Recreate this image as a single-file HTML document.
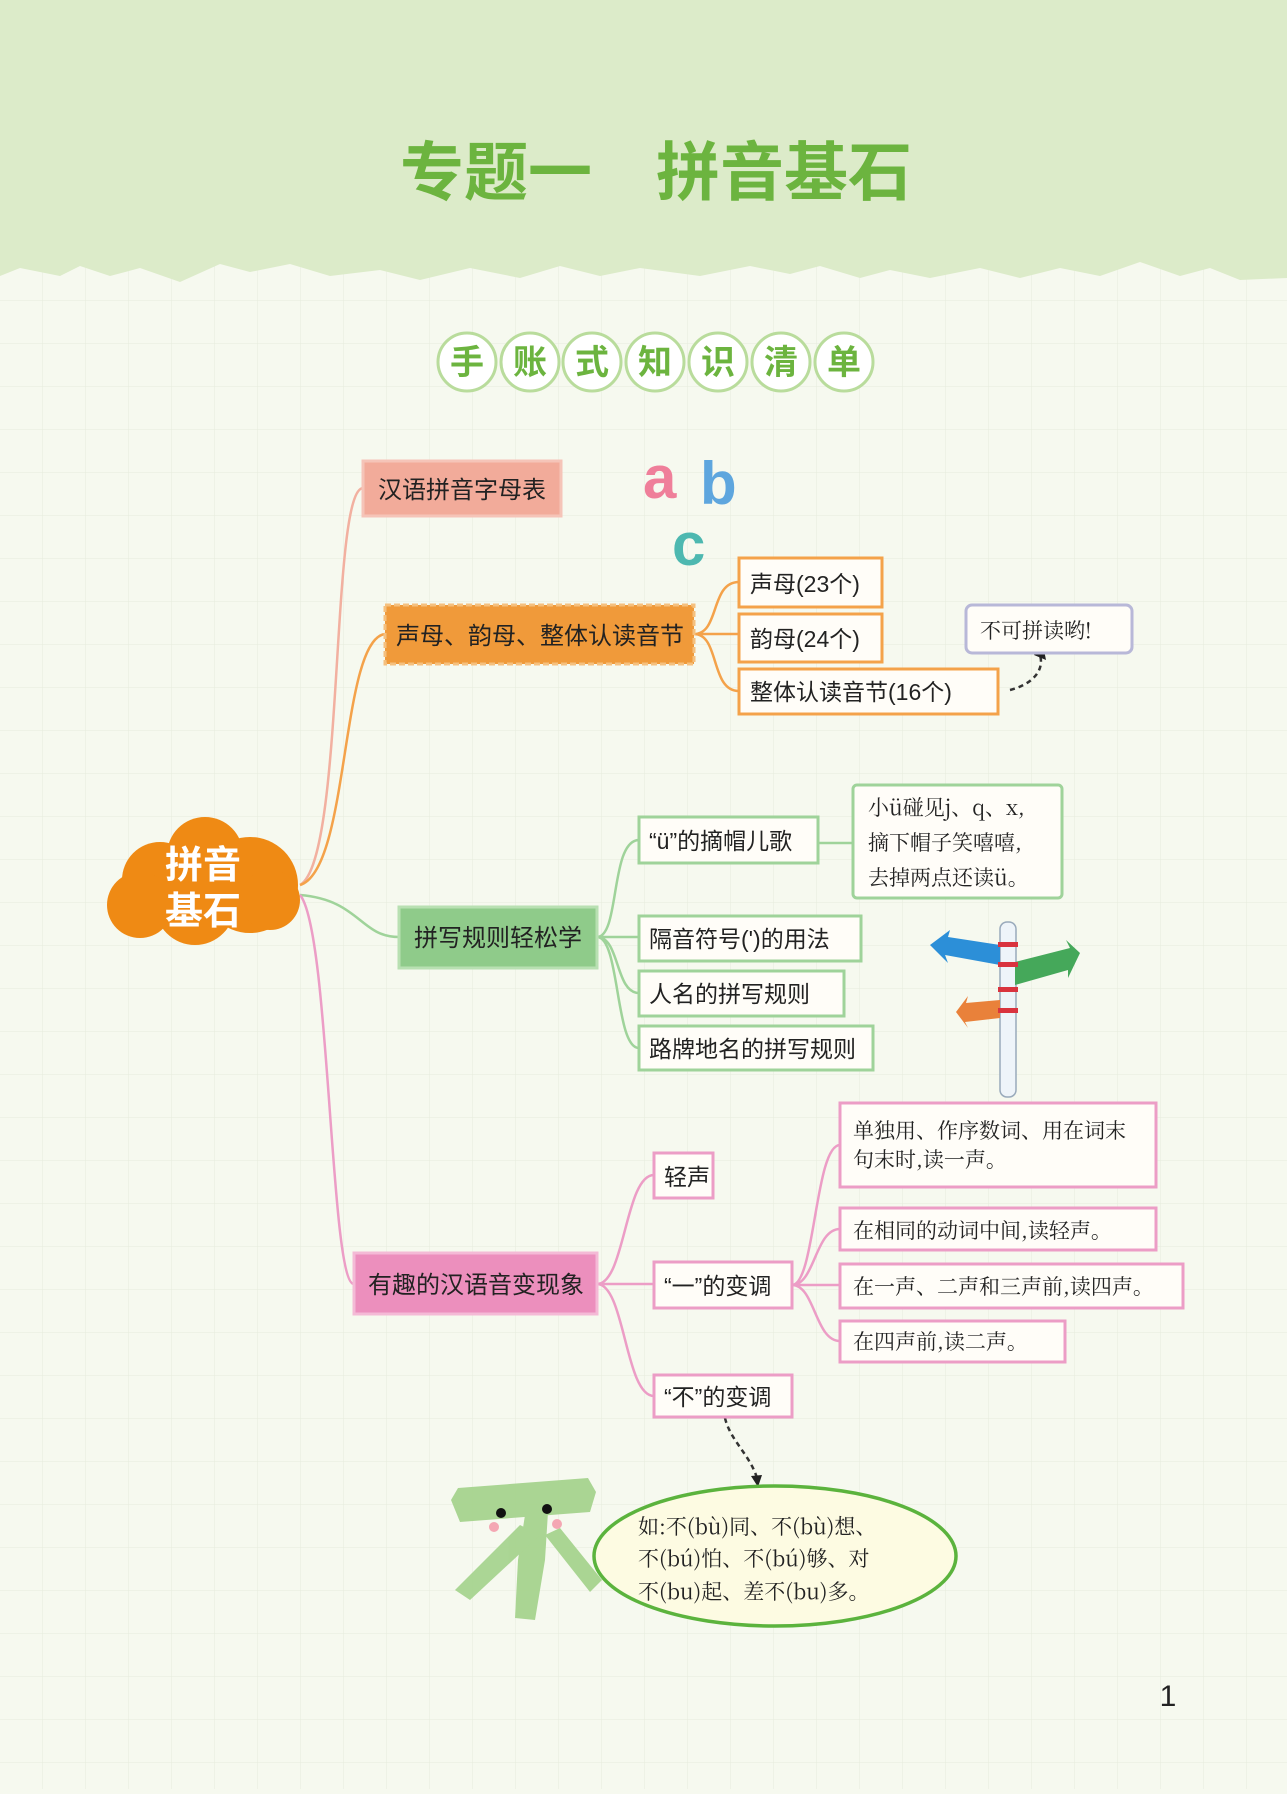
<!DOCTYPE html>
<html><head><meta charset="utf-8"><style>
html,body{margin:0;padding:0}
body{width:1287px;height:1789px;overflow:hidden;background:#f6f9ef}
svg text{font-family:"Liberation Sans","Noto Sans CJK SC",sans-serif}
.s{font-family:"Noto Serif CJK SC","Liberation Serif",serif !important}
</style></head><body>
<svg width="1287" height="1789" viewBox="0 0 1287 1789" xmlns="http://www.w3.org/2000/svg">
<defs>
<pattern id="g" width="43" height="43" patternUnits="userSpaceOnUse">
<path d="M43 0V43H0" fill="none" stroke="#e6ecdc" stroke-width="1"/>
</pattern>
</defs>
<rect width="1287" height="1789" fill="#f6f9ef"/>
<rect width="1287" height="1789" fill="url(#g)"/>
<path d="M0 0H1287V278L1240 280L1210 268L1180 276L1140 262L1100 276L1060 268L1020 278L980 268L930 278L890 270L860 278L820 266L790 274L750 266L700 276L640 268L600 276L560 266L520 278L470 268L420 280L380 270L330 276L290 264L250 272L220 264L180 282L140 268L110 276L80 266L60 276L20 268L0 276Z" fill="#dcebc9"/>
<text x="656" y="195" text-anchor="middle" font-size="64" font-weight="bold" fill="#6cb43f">专题一　拼音基石</text>
<g font-size="34" font-weight="bold" fill="#6cb43f" text-anchor="middle">
<g fill="#fff" stroke="#b9dc9c" stroke-width="3">
<circle cx="467" cy="362" r="29"/><circle cx="530" cy="362" r="29"/><circle cx="592" cy="362" r="29"/><circle cx="655" cy="362" r="29"/><circle cx="718" cy="362" r="29"/><circle cx="781" cy="362" r="29"/><circle cx="844" cy="362" r="29"/></g>
<text x="467" y="374">手</text><text x="530" y="374">账</text><text x="592" y="374">式</text><text x="655" y="374">知</text><text x="718" y="374">识</text><text x="781" y="374">清</text><text x="844" y="374">单</text>
</g>
<g fill="none" stroke-width="2.5">
<path d="M300 885C345 860 330 490 363 488" stroke="#f2b0a0"/>
<path d="M300 885C350 870 340 640 385 634" stroke="#f4a24a"/>
<path d="M300 895C360 900 360 937 399 937" stroke="#9fd39a"/>
<path d="M300 895C330 930 330 1285 354 1284" stroke="#ec9dc6"/>
<path d="M694 634C720 634 710 582 739 582M694 634H739M694 634C720 634 710 691 739 691" stroke="#f4a24a"/>
<path d="M597 937C620 937 610 840 639 840M597 937H639M597 937C620 937 615 993 639 993M597 937C620 937 615 1048 639 1048" stroke="#9fd39a"/>
<path d="M818 843H853" stroke="#9fd39a"/>
<path d="M597 1284C625 1284 625 1175 654 1175M597 1284H654M597 1284C625 1284 625 1396 654 1396" stroke="#ec9dc6"/>
<path d="M792 1285C815 1285 815 1145 840 1145M792 1285C815 1285 815 1229 840 1229M792 1285H840M792 1285C815 1285 815 1341 840 1341" stroke="#ec9dc6"/>
<path d="M1010 690C1030 685 1045 672 1040 655" stroke="#333" stroke-dasharray="5 4"/>
<path d="M725 1418C730 1440 750 1455 757 1478" stroke="#333" stroke-dasharray="5 4"/>
</g>
<path d="M1034 655L1043 645L1046 660Z" fill="#222"/>
<path d="M751 1476L762 1475L758 1487Z" fill="#222"/>
<rect x="363" y="461" width="198" height="55" fill="#f2ab9a" stroke="#f5c4b8" stroke-width="3"/>
<text x="462" y="498" text-anchor="middle" font-size="24" fill="#222">汉语拼音字母表</text>
<rect x="385" y="605" width="309" height="59" fill="#f09a3a" stroke="#f5c07e" stroke-width="3" stroke-dasharray="6 3"/>
<text x="540" y="644" text-anchor="middle" font-size="24" fill="#222">声母、韵母、整体认读音节</text>
<rect x="399" y="907" width="198" height="61" fill="#8fcb8a" stroke="#b8e0b2" stroke-width="3"/>
<text x="498" y="946" text-anchor="middle" font-size="24" fill="#222">拼写规则轻松学</text>
<rect x="354" y="1253" width="243" height="61" fill="#ec8fbd" stroke="#f4bad6" stroke-width="3"/>
<text x="476" y="1293" text-anchor="middle" font-size="24" fill="#222">有趣的汉语音变现象</text>
<g fill="#ef8a14">
<circle cx="205" cy="855" r="38"/><circle cx="160" cy="880" r="38"/><circle cx="250" cy="885" r="48"/><circle cx="140" cy="905" r="33"/><circle cx="195" cy="905" r="40"/><circle cx="270" cy="900" r="30"/>
</g>
<text x="203" y="878" text-anchor="middle" font-size="38" font-weight="bold" fill="#fff">拼音</text>
<text x="203" y="924" text-anchor="middle" font-size="38" font-weight="bold" fill="#fff">基石</text>
<g fill="#fffdf8" stroke-width="3">
<rect x="739" y="558" width="143" height="49" stroke="#f4a24a"/>
<rect x="739" y="614" width="143" height="48" stroke="#f4a24a"/>
<rect x="739" y="669" width="259" height="45" stroke="#f4a24a"/>
<rect x="966" y="605" width="166" height="48" rx="6" stroke="#b8b8d8"/>
<rect x="639" y="817" width="179" height="46" stroke="#9fd39a"/>
<rect x="853" y="785" width="209" height="113" rx="4" stroke="#9fd39a"/>
<rect x="639" y="916" width="222" height="45" stroke="#9fd39a"/>
<rect x="639" y="971" width="205" height="45" stroke="#9fd39a"/>
<rect x="639" y="1026" width="234" height="44" stroke="#9fd39a"/>
<rect x="654" y="1153" width="59" height="45" stroke="#ec9dc6"/>
<rect x="654" y="1262" width="138" height="46" stroke="#ec9dc6"/>
<rect x="654" y="1375" width="138" height="42" stroke="#ec9dc6"/>
<rect x="840" y="1103" width="316" height="84" stroke="#ec9dc6"/>
<rect x="840" y="1208" width="316" height="42" stroke="#ec9dc6"/>
<rect x="840" y="1264" width="343" height="44" stroke="#ec9dc6"/>
<rect x="840" y="1321" width="225" height="41" stroke="#ec9dc6"/>
</g>
<g font-size="23" fill="#222">
<text x="750" y="592">声母(23个)</text>
<text x="750" y="647">韵母(24个)</text>
<text x="750" y="700">整体认读音节(16个)</text>
<text x="649" y="849">“ü”的摘帽儿歌</text>
<text x="649" y="947">隔音符号(')的用法</text>
<text x="649" y="1002">人名的拼写规则</text>
<text x="649" y="1057">路牌地名的拼写规则</text>
<text x="664" y="1185">轻声</text>
<text x="664" y="1294">“一”的变调</text>
<text x="664" y="1405">“不”的变调</text>
</g>
<g class="s" font-size="21" fill="#222">
<text class="s" x="980" y="638">不可拼读哟!</text>
<text class="s" x="868" y="815">小ü碰见j、q、x,</text>
<text class="s" x="868" y="850">摘下帽子笑嘻嘻,</text>
<text class="s" x="868" y="885">去掉两点还读ü。</text>
<text class="s" x="853" y="1138">单独用、作序数词、用在词末</text>
<text class="s" x="853" y="1167">句末时,读一声。</text>
<text class="s" x="853" y="1238">在相同的动词中间,读轻声。</text>
<text class="s" x="853" y="1294">在一声、二声和三声前,读四声。</text>
<text class="s" x="853" y="1349">在四声前,读二声。</text>
</g>
<g font-size="60" font-weight="bold" font-family="Liberation Sans">
<text x="643" y="498" fill="#ef7f9a">a</text>
<text x="700" y="504" fill="#5ea6de">b</text>
<text x="672" y="565" fill="#4db8b0">c</text>
</g>
<rect x="1000" y="922" width="16" height="175" rx="7" fill="#eef4f9" stroke="#99aabb" stroke-width="1.5"/>
<path d="M1000 945L1000 965L945 955L948 963L930 945L950 930L948 937Z" fill="#2c8fd8"/>
<path d="M1015 962L1070 948L1066 940L1080 953L1068 978L1068 970L1015 985Z" fill="#45a85a"/>
<path d="M1000 1000L1000 1018L965 1022L968 1028L956 1012L968 996L966 1003Z" fill="#e9813a"/>
<g fill="#d9333e"><rect x="998" y="942" width="20" height="5"/><rect x="998" y="962" width="20" height="5"/><rect x="998" y="987" width="20" height="5"/><rect x="998" y="1008" width="20" height="5"/></g>
<!-- 不 character -->
<g fill="#a6d48f" opacity="0.95">
<path d="M451 1500L458 1488L588 1478L596 1492L590 1512L460 1522Z"/>
<path d="M525 1515L548 1512L545 1560L535 1620L515 1618L518 1560Z"/>
<path d="M520 1525L540 1535L470 1600L455 1590Z"/>
<path d="M545 1535L560 1528L602 1580L590 1592Z"/>
</g>
<circle cx="501" cy="1513" r="5" fill="#111"/><circle cx="547" cy="1509" r="5" fill="#111"/>
<circle cx="494" cy="1527" r="5" fill="#f4a7b3"/><circle cx="557" cy="1524" r="5" fill="#f4a7b3"/>
<ellipse cx="775" cy="1556" rx="181" ry="70" fill="#fdfbe2" stroke="#5bb33d" stroke-width="3.5"/>
<g font-size="21" fill="#222">
<text class="s" x="638" y="1534">如:不(bù)同、不(bù)想、</text>
<text class="s" x="638" y="1566">不(bú)怕、不(bú)够、对</text>
<text class="s" x="638" y="1599">不(bu)起、差不(bu)多。</text>
</g>
<text x="1168" y="1706" font-size="30" fill="#222" text-anchor="middle">1</text>
</svg>
</body></html>
